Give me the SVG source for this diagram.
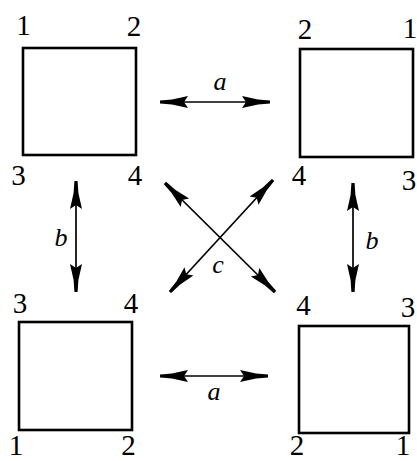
<svg xmlns="http://www.w3.org/2000/svg" width="417" height="461" viewBox="0 0 417 461" font-family="'Liberation Serif', 'DejaVu Serif', serif">
<style>
.sq{fill:none;stroke:#000;stroke-width:2.6}
.num{font-size:29px;text-anchor:middle;fill:#000}
.lbl{font-size:26px;font-style:italic;text-anchor:middle;fill:#000}
.arr{fill:none;stroke:#000;stroke-width:1.7;marker-start:url(#head);marker-end:url(#head)}
</style>
<defs>
<marker id="head" viewBox="-32 -7 33 14" refX="0" refY="0" markerWidth="33" markerHeight="14" markerUnits="userSpaceOnUse" orient="auto-start-reverse">
<path d="M0,-1.6 L-12,-2.4 L-28,-6 L-24,0 L-28,6 L-12,2.4 L0,1.6 Z" fill="#000"/>
</marker>
</defs>
<g id="node-tl">
<rect class="sq" x="23" y="48" width="113" height="107"/>
<text class="num" x="23.5" y="35">1</text>
<text class="num" x="134" y="36">2</text>
<text class="num" x="18.5" y="185">3</text>
<text class="num" x="135" y="185">4</text>
</g>
<g id="node-tr">
<rect class="sq" x="300" y="49" width="113" height="108"/>
<text class="num" x="305" y="39">2</text>
<text class="num" x="410" y="38">1</text>
<text class="num" x="299" y="185">4</text>
<text class="num" x="409" y="190">3</text>
</g>
<g id="node-bl">
<rect class="sq" x="19" y="322" width="113" height="108"/>
<text class="num" x="20" y="313">3</text>
<text class="num" x="131" y="313">4</text>
<text class="num" x="16" y="455">1</text>
<text class="num" x="128.5" y="455">2</text>
</g>
<g id="node-br">
<rect class="sq" x="299" y="326" width="110" height="107"/>
<text class="num" x="303.5" y="315">4</text>
<text class="num" x="408" y="317">3</text>
<text class="num" x="297" y="455">2</text>
<text class="num" x="403" y="455">1</text>
</g>
<g id="connectors">
<path class="arr" d="M160,102 L270,102"/>
<path class="arr" d="M160,376 L268,376"/>
<path class="arr" d="M76,181 L76,292"/>
<path class="arr" d="M353,183 L353,292"/>
<path class="arr" d="M165,183 L275,292"/>
<path class="arr" d="M273,180 L170,292"/>
<text class="lbl" x="220" y="90">a</text>
<text class="lbl" x="214" y="400">a</text>
<text class="lbl" x="61" y="246">b</text>
<text class="lbl" x="372" y="249">b</text>
<text class="lbl" x="218" y="273">c</text>
</g>
</svg>
